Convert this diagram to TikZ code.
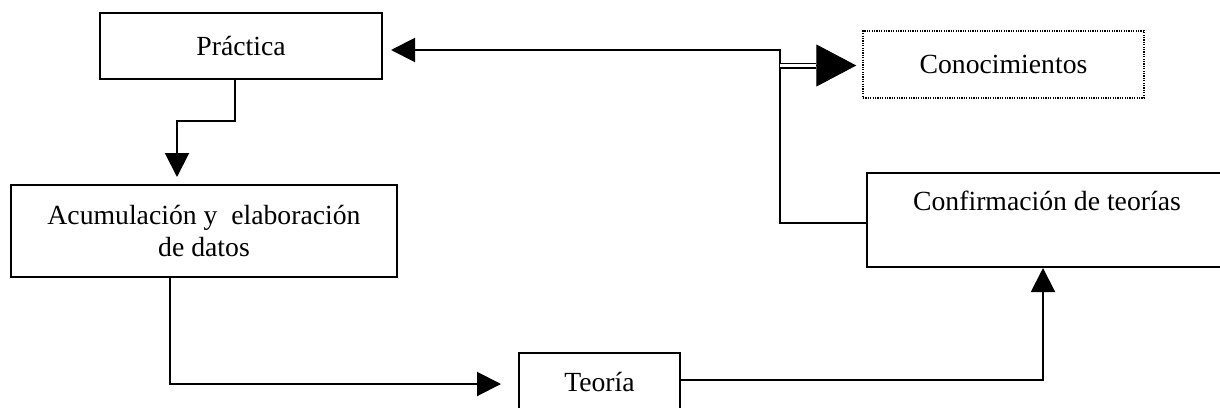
\documentclass[tikz,border=0pt]{standalone}
\usepackage{fontspec}
\setmainfont{Liberation Serif}
\usetikzlibrary{arrows.meta,calc}

\tikzset{
	box/.style={draw, line width=1pt, inner sep=0pt, align=center, font=\fontsize{13.85}{16}\selectfont},
	arr/.style={line width=1pt, -{Triangle[length=12pt,width=12pt]}},
	dbl/.style={line width=0.75pt, double, double distance=1.5pt},
	bigtip/.style={line width=0.5pt, -{Triangle[length=20pt,width=21pt]}}
}

\begin{document}
\begin{tikzpicture}[x=0.5pt, y=-0.5pt]
			%%%%% START %%%%%
			
			\clip (0, 0) rectangle (1220, 407);
			
			\node[box, minimum width=141pt, minimum height=33pt] (prac) at (241, 46) {Práctica};
			\node[box, minimum width=193pt, minimum height=46pt] (acum) at (204, 231) {Acumulación y~ elaboración\\de datos};
			\node[box, line width=0.75pt, dash pattern=on 0.6pt off 0.6pt, minimum width=140.5pt, minimum height=33.5pt] (know) at (1003.5, 64.5) {Conocimientos};
			\node[box, anchor=north, minimum width=180pt, text height=18.5pt, text depth=28.5pt] (conf) at (1047, 172) {Confirmación de teorías};
			\node[box, anchor=north, minimum width=80.5pt, text height=19pt, text depth=20pt] (teo) at (599.5, 352) {Teoría};
			
			\coordinate (knee) at (780, 50);
			\coordinate (dblA) at (780, 65.5);
			
			\draw[arr, shorten >=3.5pt] ([xshift=-3pt]prac.south) -- ++(0, 41) -| ([xshift=-13.5pt]acum.north);
			\draw[arr, shorten >=8.5pt] ([xshift=-17pt]acum.south) |- ([yshift=-16pt]teo.north west);
			\draw[arr] ([yshift=-14pt]teo.north east) -| ([xshift=-2pt]conf.south);
			\draw[arr, shorten >=4pt] ([yshift=-1.5pt]conf.west) -| (knee) -- (prac.east |- knee);
			
			\draw[dbl] (dblA) -- ([xshift=-23pt]know.west |- dblA);
			\draw[bigtip] ([xshift=-23pt]know.west |- dblA) -- ([xshift=-3pt]know.west |- dblA);
			
			%%%%% END %%%%%
\end{tikzpicture}
\end{document}
